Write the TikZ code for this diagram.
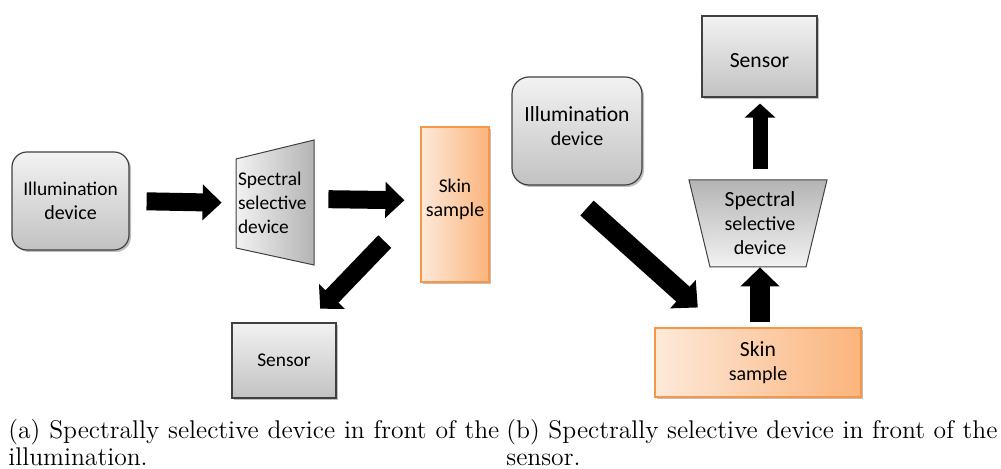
\documentclass[tikz,border=0pt]{standalone}
\usepackage{fontspec}
\setsansfont{Carlito}
\usetikzlibrary{arrows.meta,shadows}

\hyphenpenalty=10000
\definecolor{box edge}{HTML}{404040}
\definecolor{gray light}{HTML}{F2F2F2}
\definecolor{gray dark}{HTML}{C2C2C2}
\definecolor{filter dark}{HTML}{B4B4B4}
\definecolor{skin light}{HTML}{FDE9D9}
\definecolor{skin dark}{HTML}{FBB47C}
\definecolor{skin edge}{HTML}{F79646}
\def\leftfilter{(236,159) -- (314,140) -- (314,265) -- (236,248) -- cycle}
\def\rightfilter{(689,180) -- (827,180) -- (806,267) -- (710,267) -- cycle}
\def\smalltext{\fontsize{9.7pt}{12pt}\selectfont}
\def\largetext{\fontsize{10.8pt}{13pt}\selectfont}
\tikzset{
  shadowed/.style={drop shadow={shadow xshift=1pt, shadow yshift=-1pt, opacity=0.25, fill=black}},
  graybox/.style={draw=box edge, line width=0.6pt, top color=gray light, bottom color=gray dark,
    shadowed, align=center, text=black, inner sep=0pt, font=\sffamily},
  skinbox/.style={draw=skin edge, line width=0.6pt, left color=skin light, right color=skin dark,
    shadowed, align=center, text=black, inner sep=0pt, font=\sffamily},
  filtertext/.style={text=black, inner sep=1pt, font=\sffamily},
  bigarrow/.style={line width=9pt, -{Triangle[length=9.5pt, width=17.5pt]}},
  caption/.style={anchor=north west, text width=245.5pt, align=justify, inner sep=0pt,
    font=\fontsize{12.8pt}{13.5pt}\selectfont}
}

\begin{document}
\begin{tikzpicture}[x=0.5pt, y=-0.5pt]
  \useasboundingbox (0,0) rectangle (1001,469);

  % (a) filter in front of the illumination
  \node[graybox, rounded corners=7.5pt, minimum width=58.5pt, minimum height=49pt] (illumA)
    at (70.5,201) {\smalltext Illumination\\device};
  \shade[draw=box edge, line width=0.5pt, left color=gray light, right color=filter dark] \leftfilter;
  \node[filtertext, text width=37pt, align=left, minimum height=62.5pt] (specA)
    at (275,203) {\smalltext Spectral\\selective\\device};
  \node[skinbox, minimum width=34pt, minimum height=77.5pt, text depth=7pt] (skinA)
    at (455,204.5) {\smalltext Skin\\sample};
  \node[graybox, minimum width=52pt, minimum height=37.5pt] (sensorA)
    at (284,360.5) {\smalltext Sensor};

  \draw[bigarrow, shorten <=8.5pt, shorten >=7pt] (illumA.east) -- (specA.west);
  \draw[bigarrow, shorten <=7pt, shorten >=8pt] ([yshift=2pt]specA.east) -- ([yshift=2pt]skinA.west);
  \draw[bigarrow, -{Triangle[length=8.5pt, width=17.5pt]}, shorten <=25.7pt, shorten >=9.5pt]
    (skinA.west) -- ([xshift=11.5pt]sensorA.north);

  % (b) filter in front of the sensor
  \node[graybox, minimum width=57.5pt, minimum height=40.5pt, text height=11.5pt] (sensorB)
    at (759.5,56.5) {\largetext Sensor};
  \node[graybox, rounded corners=8.5pt, minimum width=65pt, minimum height=54pt, text depth=5pt] (illumB)
    at (577,131) {\largetext Illumination\\device};
  \shade[draw=box edge, line width=0.5pt, top color=filter dark, bottom color=gray light] \rightfilter;
  \node[filtertext, align=center, minimum height=43.5pt] (specB)
    at (760,223.5) {\fontsize{10.8pt}{13.2pt}\selectfont Spectral\\selective\\device};
  \node[skinbox, minimum width=103pt, minimum height=34.5pt] (skinB)
    at (758,362.5) {\largetext Skin\\sample};

  \draw[bigarrow, line width=10pt, -{Triangle[length=10pt, width=18.5pt]}, shorten <=16.8pt, shorten >=14.9pt]
    ([xshift=-7.5pt]illumB.south) -- ([xshift=-19pt]skinB.north);
  \draw[bigarrow, line width=10pt, -{Triangle[length=9.5pt, width=19pt]}, shorten <=2.5pt]
    (skinB.north -| specB.south) -- (specB.south);
  \draw[bigarrow, line width=7.5pt, -{Triangle[length=7pt, width=15pt]}, shorten <=5.5pt, shorten >=3pt]
    (specB.north) -- (sensorB.south -| specB.north);

  % captions
  \node[caption] (capA) at (8,419) {(a) Spectrally selective device in front of the illumination.};
  \node[caption] (capB) at (506,419) {(b) Spectrally selective device in front of the sensor.};
\end{tikzpicture}
\end{document}
